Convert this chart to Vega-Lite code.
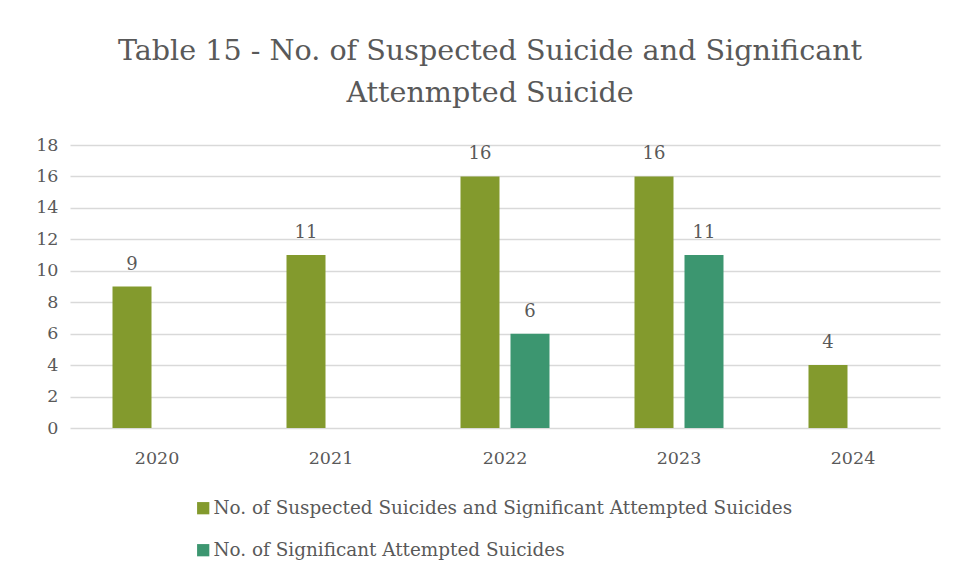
{
  "$schema": "https://vega.github.io/schema/vega-lite/v6.json",
  "width": 870,
  "height": 283,
  "autosize": "none",
  "padding": {"left": 70, "top": 145, "right": 18, "bottom": 150},
  "background": "white",
  "title": {
    "text": ["Table 15 - No. of Suspected Suicide and Significant", "Attenmpted Suicide"],
    "font": "DejaVu Serif",
    "fontSize": 28.6,
    "fontWeight": "normal",
    "color": "#595959",
    "anchor": "middle",
    "dx": -15,
    "offset": 28,
    "lineHeight": 42
  },
  "data": {
    "values": [
      {"year": "2020", "series": "No. of Suspected Suicides and Significant Attempted Suicides", "value": 9},
      {"year": "2021", "series": "No. of Suspected Suicides and Significant Attempted Suicides", "value": 11},
      {"year": "2022", "series": "No. of Suspected Suicides and Significant Attempted Suicides", "value": 16},
      {"year": "2022", "series": "No. of Significant Attempted Suicides", "value": 6},
      {"year": "2023", "series": "No. of Suspected Suicides and Significant Attempted Suicides", "value": 16},
      {"year": "2023", "series": "No. of Significant Attempted Suicides", "value": 11},
      {"year": "2024", "series": "No. of Suspected Suicides and Significant Attempted Suicides", "value": 4}
    ]
  },
  "encoding": {
    "x": {
      "field": "year", "type": "nominal",
      "scale": {"paddingInner": 0.4885, "paddingOuter": 0.2443},
      "axis": {"title": null, "labelAngle": 0, "domain": false, "ticks": false, "labelPadding": 21,
               "labelFont": "DejaVu Serif", "labelFontSize": 17.5, "labelColor": "#595959"}
    },
    "xOffset": {
      "field": "series", "type": "nominal",
      "sort": ["No. of Suspected Suicides and Significant Attempted Suicides", "No. of Significant Attempted Suicides"],
      "scale": {"paddingInner": 0.22, "paddingOuter": 0}
    },
    "y": {
      "field": "value", "type": "quantitative",
      "scale": {"domain": [0, 18]},
      "axis": {"title": null, "values": [0, 2, 4, 6, 8, 10, 12, 14, 16, 18], "domain": false, "ticks": false,
               "labelPadding": 12, "labelFont": "DejaVu Serif", "labelFontSize": 17.5, "labelColor": "#595959",
               "gridColor": "#d9d9d9", "gridWidth": 1.3}
    },
    "color": {
      "field": "series", "type": "nominal",
      "sort": ["No. of Suspected Suicides and Significant Attempted Suicides", "No. of Significant Attempted Suicides"],
      "scale": {"domain": ["No. of Suspected Suicides and Significant Attempted Suicides", "No. of Significant Attempted Suicides"],
                "range": ["#839A2D", "#3C9670"]},
      "legend": {
        "title": null, "orient": "none", "legendX": 124, "legendY": 354, "direction": "vertical",
        "symbolType": "square", "symbolSize": 150, "symbolStrokeWidth": 0, "symbolOpacity": 1,
        "labelFont": "DejaVu Serif", "labelFontSize": 18.4, "labelColor": "#595959",
        "labelLimit": 800, "rowPadding": 23, "labelOffset": 1
      }
    }
  },
  "layer": [
    {"mark": {"type": "bar"}},
    {"mark": {"type": "text", "baseline": "bottom", "dy": -13, "font": "DejaVu Serif", "fontSize": 18},
     "encoding": {"text": {"field": "value", "type": "quantitative"}, "color": {"value": "#595959"}}}
  ],
  "config": {"view": {"stroke": null}}
}
